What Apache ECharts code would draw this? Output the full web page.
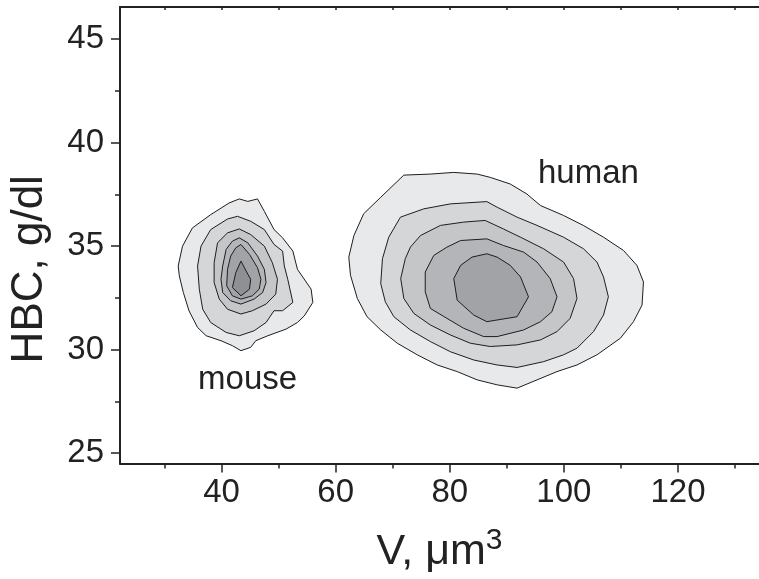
<!DOCTYPE html>
<html>
<head>
<meta charset="utf-8">
<script src="https://cdn.jsdelivr.net/npm/echarts@6/dist/echarts.min.js"></script>
<style>
  html, body { margin: 0; padding: 0; background: #fff; }
  #chart { width: 759px; height: 579px; }
</style>
</head>
<body>
<div id="chart"></div>
<script>
// tick values
var xMajorTicks = [40, 60, 80, 100, 120];
var xMinorTicks = [30, 50, 70, 90, 110, 130];
var xTopTicks = [30, 40, 50, 60, 70, 80, 90, 100, 110, 120, 130];
var yMajorTicks = [25, 30, 35, 40, 45];
var yMinorTicks = [27.5, 32.5, 37.5, 42.5];

// contour levels, outer -> inner, [V, HBC]
var mouse1 = [[32.4,34.04],[33.16,35.0],[34.9,35.88],[38.1,36.52],[41.3,37.08],[43.1,37.28],[44.6,37.16],[46.3,37.28],[47.5,36.68],[49.2,35.8],[50.7,35.4],[52.5,34.76],[53.3,33.88],[55.7,32.92],[56.0,32.28],[54.5,31.63],[53.3,31.31],[51.3,30.99],[48.1,30.67],[46.0,30.43],[45.1,30.11],[43.4,29.95],[41.9,30.19],[39.9,30.43],[37.3,30.67],[35.8,31.07],[34.3,31.87],[33.3,32.76],[32.6,33.56]];
var mouse2 = [[35.8,34.04],[36.4,35.0],[38.1,35.8],[41.05,36.31],[42.8,36.44],[45.1,36.2],[47.5,35.8],[49.2,35.08],[50.7,34.76],[51.0,34.04],[51.6,33.4],[52.5,32.28],[50.7,31.88],[49.2,31.88],[47.8,31.31],[45.7,30.91],[43.1,30.67],[40.8,30.83],[38.1,31.31],[36.7,31.95],[36.1,32.92]];
var mouse3 = [[38.7,34.2],[39.3,35.16],[41.05,35.64],[43.1,35.83],[45.1,35.56],[47.5,35.0],[48.9,34.2],[49.8,33.4],[49.5,32.68],[47.8,32.2],[45.4,31.88],[43.4,31.72],[41.05,31.95],[39.6,32.44],[38.7,33.24]];
var mouse4 = [[40.2,34.04],[40.8,34.84],[41.9,35.24],[43.1,35.4],[44.6,35.16],[46.3,34.52],[47.5,33.88],[47.8,33.24],[47.2,32.76],[45.7,32.44],[43.4,32.2],[41.6,32.36],[40.2,32.76],[39.9,33.4]];
var mouse5 = [[41.05,33.88],[41.6,34.52],[42.5,34.92],[43.4,35.08],[44.9,34.6],[46.3,33.96],[46.9,33.4],[46.6,32.92],[45.4,32.6],[43.4,32.44],[41.9,32.6],[40.9,33.08]];
var mouse6 = [[41.9,33.0],[42.5,33.72],[43.4,34.28],[44.3,33.8],[45.1,33.4],[44.9,32.92],[43.4,32.6]];

var human1 = [[71.95,38.43],[76.6,38.48],[80.7,38.56],[84.8,38.48],[87.1,38.32],[90.6,38.0],[93.5,37.52],[95.9,36.96],[99.95,36.48],[103.4,36.0],[106.95,35.43],[110.45,34.79],[112.8,34.07],[113.95,33.27],[113.7,32.15],[112.2,31.35],[109.9,30.55],[105.8,29.75],[102.3,29.26],[98.8,28.94],[95.3,28.54],[91.8,28.14],[88.3,28.3],[84.8,28.54],[81.3,28.94],[77.8,29.26],[74.3,29.75],[70.8,30.31],[67.9,30.95],[65.5,31.59],[63.8,32.47],[62.6,33.59],[62.3,34.47],[63.2,35.51],[64.9,36.56],[67.9,37.36]];
var human2 = [[71.36,36.4],[75.45,36.8],[80.1,37.04],[86.5,37.15],[88.3,36.88],[91.8,36.4],[95.3,36.0],[99.95,35.43],[103.45,34.87],[105.8,34.23],[106.95,33.51],[107.8,32.55],[106.95,31.67],[105.2,30.87],[102.3,30.07],[99.95,29.75],[96.45,29.42],[91.8,29.14],[88.3,29.26],[84.2,29.5],[80.1,29.9],[76.6,30.39],[73.1,30.95],[70.2,31.59],[68.7,32.31],[67.9,33.19],[68.2,34.39],[69.3,35.43]];
var human3 = [[74.86,35.51],[78.36,36.0],[82.45,36.16],[86.2,36.24],[89.4,35.83],[92.4,35.43],[96.45,34.87],[99.95,34.23],[101.7,33.43],[102.3,32.47],[101.1,31.51],[98.8,30.87],[95.9,30.47],[91.8,30.23],[87.1,30.15],[83.6,30.31],[80.1,30.71],[76.6,31.19],[73.7,31.75],[71.95,32.47],[71.4,33.43],[72.2,34.39],[73.1,34.95]];
var human4 = [[77.2,34.55],[79.5,34.95],[81.9,35.27],[86.5,35.35],[89.4,35.03],[92.95,34.71],[95.3,34.23],[97.6,33.43],[98.8,32.55],[97.9,31.83],[95.9,31.35],[92.95,30.95],[88.3,30.63],[85.95,30.63],[82.45,31.03],[79.5,31.51],[76.6,31.99],[75.7,32.79],[75.7,33.75]];
var human5 = [[81.9,34.07],[83.9,34.47],[86.5,34.63],[88.3,34.47],[90.6,34.07],[92.4,33.51],[93.8,32.55],[91.8,31.59],[86.5,31.35],[84.2,31.67],[81.3,32.39],[80.7,33.43]];

var levelColors = ['#e8e9ea', '#d5d6d8', '#c5c6c8', '#b4b5b8', '#a2a3a6', '#8f9094'];

var labels = [[44.56, 28.52, 'mouse'], [104.3, 38.47, 'human']];

var chart = echarts.init(document.getElementById('chart'));

function contour(points, color) {
    return {
        type: 'custom',
        coordinateSystem: 'cartesian2d',
        silent: true,
        clip: false,
        data: [points[0]],
        renderItem: function (params, api) {
            return {
                type: 'polygon',
                shape: { points: points.map(function (p) { return api.coord(p); }) },
                style: { fill: color, stroke: '#1e1e1e', lineWidth: 1 }
            };
        }
    };
}

var series = [];
[mouse1, mouse2, mouse3, mouse4, mouse5, mouse6].forEach(function (c, i) {
    series.push(contour(c, levelColors[i]));
});
[human1, human2, human3, human4, human5].forEach(function (c, i) {
    series.push(contour(c, levelColors[i]));
});
series.push({
    type: 'scatter',
    symbolSize: 0,
    silent: true,
    itemStyle: { opacity: 1 },
    data: labels,
    label: {
        show: true,
        position: 'inside',
        formatter: function (p) { return p.value[2]; },
        fontFamily: 'Liberation Sans',
        fontSize: 33,
        color: '#222',
        opacity: 1
    }
});

var textFont = { fontFamily: 'Liberation Sans', color: '#222' };

chart.setOption({
    backgroundColor: '#fff',
    animation: false,
    grid: { left: 119, right: 0, top: 7, bottom: 114 },
    xAxis: [
        {
            type: 'value', min: 22.2, max: 134.2, position: 'bottom',
            name: 'V, \u03bcm{sup|3}', nameLocation: 'middle', nameGap: 62,
            nameTextStyle: {
                fontFamily: 'Liberation Sans', fontSize: 43, color: '#222',
                rich: { sup: { fontFamily: 'Liberation Sans', fontSize: 30, color: '#222', padding: [0, 0, 24, 0] } }
            },
            axisLine: { show: true, lineStyle: { color: '#222', width: 2 } },
            axisTick: { show: true, customValues: xMajorTicks, length: 9, lineStyle: { color: '#222', width: 1.5 } },
            axisLabel: Object.assign({ customValues: xMajorTicks, fontSize: 33, margin: 13 }, textFont),
            splitLine: { show: false }
        },
        {
            type: 'value', min: 22.2, max: 134.2, position: 'bottom',
            axisLine: { show: false },
            axisTick: { show: true, customValues: xMinorTicks, length: 5, lineStyle: { color: '#222', width: 1.5 } },
            axisLabel: { show: false },
            splitLine: { show: false }
        },
        {
            type: 'value', min: 22.2, max: 134.2, position: 'top',
            axisLine: { show: true, lineStyle: { color: '#222', width: 2 } },
            axisTick: { show: true, inside: true, customValues: xTopTicks, length: 3, lineStyle: { color: '#222', width: 1.5 } },
            axisLabel: { show: false },
            splitLine: { show: false }
        }
    ],
    yAxis: [
        {
            type: 'value', min: 24.5, max: 46.55, position: 'left',
            name: 'HBC, g/dl', nameLocation: 'middle', nameGap: 68,
            nameTextStyle: { fontFamily: 'Liberation Sans', fontSize: 44, color: '#222', padding: [0, 68, 0, 0] },
            axisLine: { show: true, lineStyle: { color: '#222', width: 2 } },
            axisTick: { show: true, customValues: yMajorTicks, length: 9, lineStyle: { color: '#222', width: 1.5 } },
            axisLabel: Object.assign({ customValues: yMajorTicks, fontSize: 33, margin: 16 }, textFont),
            splitLine: { show: false }
        },
        {
            type: 'value', min: 24.5, max: 46.55, position: 'left',
            axisLine: { show: false },
            axisTick: { show: true, customValues: yMinorTicks, length: 5, lineStyle: { color: '#222', width: 1.5 } },
            axisLabel: { show: false },
            splitLine: { show: false }
        }
    ],
    series: series
});
</script>
</body>
</html>
